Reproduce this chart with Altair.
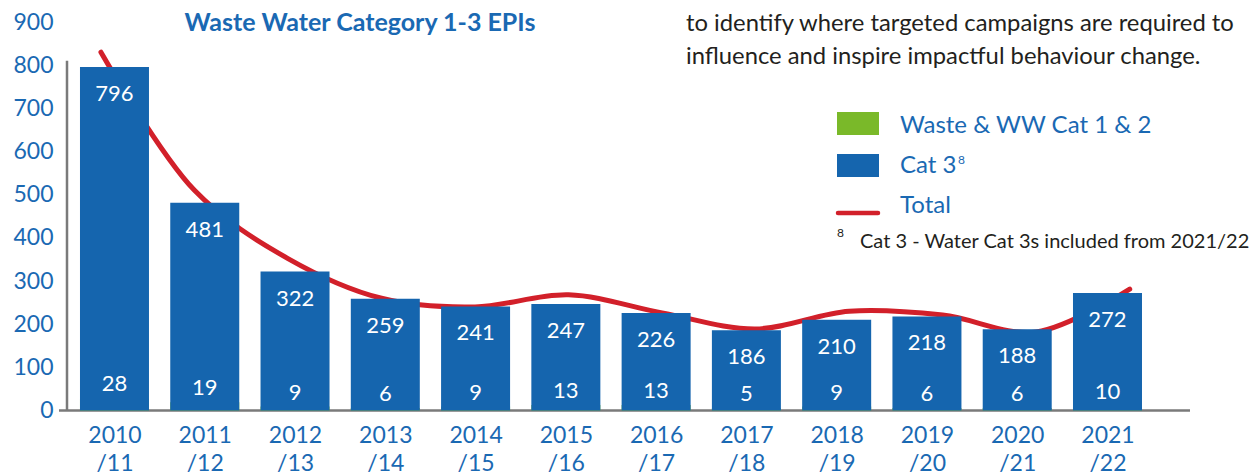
import altair as alt
import pandas as pd

# ---------------- data ----------------
periods = ["2010/11", "2011/12", "2012/13", "2013/14", "2014/15", "2015/16",
           "2016/17", "2017/18", "2018/19", "2019/20", "2020/21", "2021/22"]
cat3 = [796, 481, 322, 259, 241, 247, 226, 186, 210, 218, 188, 272]
cat12 = [28, 19, 9, 6, 9, 13, 13, 5, 9, 6, 6, 10]
total_line = [830, 510, 352, 260, 240, 268, 226, 189, 230, 221, 182, 281]
y_ticks = [0, 100, 200, 300, 400, 500, 600, 700, 800, 900]

chart_title = "Waste Water Category 1-3 EPIs"
body_lines = ["to identify where targeted campaigns are required to",
              "influence and inspire impactful behaviour change."]
legend_labels = ["Waste & WW Cat 1 & 2", "Cat 3", "Total"]
footnote = "Cat 3 - Water Cat 3s included from 2021/22"

# ---------------- style ----------------
W, H = 1123, 388.5
X_DOMAIN = [-0.526, 11.914]
Y_DOMAIN = [0, 900]
LINE_START, LINE_STEP = -0.15, 1.036
BLUE = "#1565AE"
TXT_BLUE = "#1A69B3"
GREEN = "#7AB929"
RED = "#D2202A"
GREY = "#7A7A7A"
DARK = "#231F20"
FONT = "Lato"

df = pd.DataFrame({"i": list(range(len(periods))), "period": periods,
                   "cat3": cat3, "cat12": cat12, "total": total_line})

xs = alt.Scale(domain=X_DOMAIN, nice=False, zero=False, padding=0)
ys = alt.Scale(domain=Y_DOMAIN, nice=False, padding=0)

arr = "[" + ",".join("'" + p + "'" for p in periods) + "]"
x_axis = alt.Axis(values=list(range(len(periods))),
                  labelExpr=f"[slice({arr}[datum.value],0,4), slice({arr}[datum.value],4)]",
                  domain=False, ticks=False, tickSize=0, grid=False, title=None,
                  labelFont=FONT, labelFontSize=23, labelColor=TXT_BLUE,
                  labelPadding=14, labelLineHeight=28, labelFlush=False,
                  labelOverlap=False, labelBaseline="top")
y_axis = alt.Axis(values=y_ticks, domain=False, ticks=False, tickSize=0, grid=False,
                  title=None, labelFont=FONT, labelFontSize=23, labelColor=TXT_BLUE,
                  labelPadding=14, labelOverlap=False, labelFlush=False)


def X(field):
    return alt.X(field, type="quantitative", scale=xs, axis=x_axis)


def Y(field):
    return alt.Y(field, type="quantitative", scale=ys, axis=y_axis)


base = alt.Chart(df)

trend = base.transform_calculate(
    lx=f"{LINE_START} + {LINE_STEP} * datum.i"
).mark_line(color=RED, strokeWidth=5, interpolate="catmull-rom",
            strokeCap="round", clip=False).encode(x=X("lx"), y=Y("total"))

one = pd.DataFrame({"k": [0]})
x_line = alt.Chart(one).mark_rule(color=GREY, strokeWidth=2.5).encode(
    x=alt.value(-8), x2=alt.value(W), y=alt.datum(0, scale=ys))
y_line = alt.Chart(one).mark_rule(color=GREY, strokeWidth=2.5).encode(
    x=alt.value(0), y=alt.datum(0, scale=ys), y2=alt.datum(810))

green_bars = base.mark_bar(width=69, color=GREEN).encode(x=X("i"), y=Y("cat12"))
blue_bars = base.mark_bar(width=69, color=BLUE).encode(x=X("i"), y=Y("cat3"))

top_lbl = base.mark_text(color="white", font=FONT, fontSize=22, baseline="middle",
                         dy=27).encode(x=X("i"), y=Y("cat3"), text="cat3:Q")
bot_lbl = base.mark_text(color="white", font=FONT, fontSize=22, baseline="middle",
                         dy=-14).encode(x=X("i"), y=Y("cat12"), text="cat12:Q")


def txt(s, x, y, size, color, weight="normal", align="left", baseline="alphabetic"):
    return alt.Chart(pd.DataFrame({"t": [s]})).mark_text(
        font=FONT, fontSize=size, color=color, fontWeight=weight,
        align=align, baseline=baseline).encode(
        text="t:N", x=alt.value(x), y=alt.value(y))


def box(x1, x2, y1, y2, color):
    return alt.Chart(one).mark_rect(color=color).encode(
        x=alt.value(x1), x2=alt.value(x2), y=alt.value(y1), y2=alt.value(y2))


title_t = txt(chart_title, 293, 9, 25, TXT_BLUE, weight="bold", align="center")
body1 = txt(body_lines[0], 619, 8.5, 23.8, DARK)
body2 = txt(body_lines[1], 619, 42, 23.8, DARK)

leg_g = box(770, 812, 90, 113, GREEN)
leg_b = box(770, 812, 132, 155, BLUE)
leg_r = alt.Chart(one).mark_rule(color=RED, strokeWidth=4.5, strokeCap="round").encode(
    x=alt.value(771), x2=alt.value(811), y=alt.value(191))
leg_t1 = txt(legend_labels[0], 833, 111, 24, TXT_BLUE)
leg_t2 = txt(legend_labels[1], 833, 151, 24, TXT_BLUE)
leg_sup = txt("8", 891, 142, 12, TXT_BLUE)
leg_t3 = txt(legend_labels[2], 833, 191, 24, TXT_BLUE)
foot_sup = txt("8", 770, 215, 12, DARK)
foot_t = txt(footnote, 793, 226, 20, DARK)

chart = alt.layer(
    trend, x_line, y_line, green_bars, blue_bars, top_lbl, bot_lbl,
    title_t, body1, body2, leg_g, leg_b, leg_r, leg_t1, leg_t2, leg_sup, leg_t3,
    foot_sup, foot_t
).properties(
    width=W, height=H,
    autosize=alt.AutoSizeParams(type="none"),
    padding={"left": 67, "top": 22, "right": 67, "bottom": 62.5},
    background="white"
).configure_view(stroke=None)

chart.save("out.html", embed_options={"renderer": "svg", "actions": False})
